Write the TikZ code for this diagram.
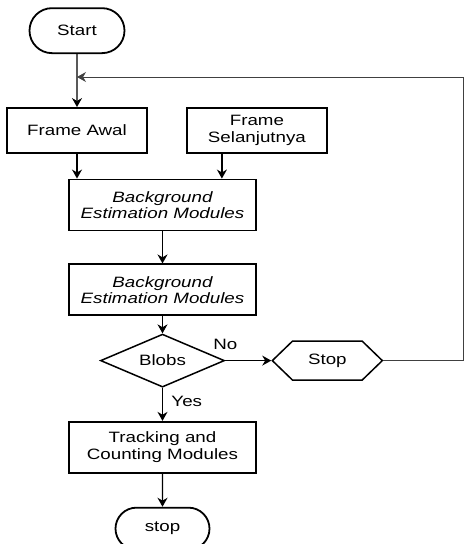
\documentclass[tikz,border=0pt]{standalone}
\usepackage{fontspec}
\setmainfont{Liberation Sans}[FakeStretch=1.25]
\usepackage{tikz}
\usetikzlibrary{shapes,arrows.meta,positioning}

\begin{document}
\begin{tikzpicture}[
    x=1pt, y=1pt,
    font=\fontsize{15}{16.5}\selectfont,
    node distance=1cm,
    terminal/.style={rounded rectangle, draw, line width=1.8pt, inner sep=0pt, align=center},
    process/.style={rectangle, draw, line width=1.9pt, inner sep=0pt, align=center},
    decision/.style={diamond, draw, line width=1.5pt, inner sep=0pt, aspect=2.4, minimum width=124pt, minimum height=53pt},
    hexa/.style={signal, signal to=west and east, signal pointer angle=88, draw, line width=1.5pt, inner sep=0pt, minimum width=110pt, minimum height=39pt},
    arrow/.style={-{Stealth[length=9pt,width=10pt]}, line width=1.3pt},
    loop/.style={-{Stealth[length=9pt,width=10pt]}, line width=0.9pt, black!75}
]
\useasboundingbox (0,0) rectangle (464,-544);

% Input frames
\node[process, minimum width=140pt, minimum height=45pt] (awal) at (77,-130.5) {Frame Awal};
\node[terminal, minimum width=95pt, minimum height=45pt, above=53pt of awal] (start) {Start};
\node[process, minimum width=140pt, minimum height=45pt, right=38pt of awal] (lanjut) {Frame\\Selanjutnya};

% Modules
\node[process, minimum width=187pt, minimum height=51pt] (bgA) at (162.5,-205) {\itshape Background\\\itshape Estimation Modules};
\node[process, minimum width=187pt, minimum height=51pt, below=32pt of bgA] (bgB) {\itshape Background\\\itshape Estimation Modules};

% Decision
\node[decision, below=17pt of bgB] (blobs) {Blobs};
\node[hexa, right=46pt of blobs] (halt) {Stop};

% Tracking and end
\node[process, minimum width=187pt, minimum height=51pt, below=33pt of blobs] (track) {Tracking and\\Counting Modules};
\node[terminal, minimum width=94pt, minimum height=42pt, below=33pt of track] (finish) {stop};

% Loop corner points
\coordinate (loopR) at (463,-77);
\coordinate (join) at (start.south |- loopR);

% Flow arrows
\draw[arrow] (start) -- (awal);
\draw[arrow] (awal.south) -- (awal.south |- bgA.north);
\draw[arrow] ([xshift=-35pt]lanjut.south) -- ([xshift=-35pt]lanjut.south |- bgA.north);
\draw[arrow] (bgA) -- (bgB);
\draw[arrow] (bgB) -- (blobs);
\draw[arrow] (blobs) -- node[right=5pt, pos=0.4] {Yes} (track);
\draw[arrow] (blobs.east) -- node[pos=0, above=7pt] {No} (halt.west);
\draw[arrow] (track) -- (finish);

% Back to next frame
\draw[loop] (halt.east) -- (loopR |- halt.east) -- (loopR) -- (join);

\end{tikzpicture}
\end{document}
